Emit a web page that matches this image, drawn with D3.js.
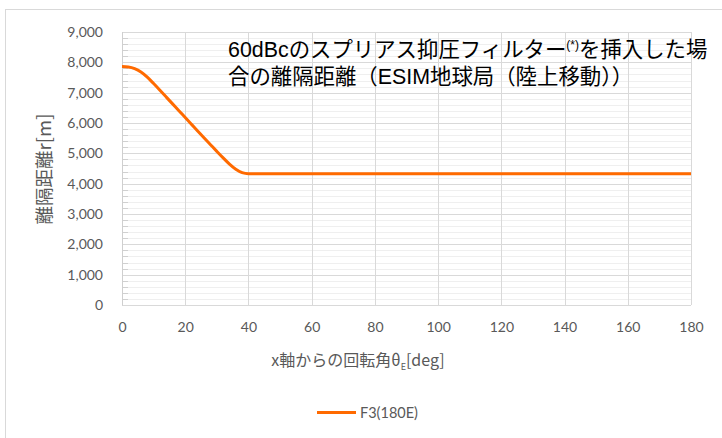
<!DOCTYPE html>
<html><head><meta charset="utf-8">
<script src="https://cdn.jsdelivr.net/npm/d3@7"></script>
<style>body{margin:0;background:#fff}svg{display:block}</style>
</head><body>
<svg id="c" width="722" height="438"></svg>
<script>
const thetaDeg = [0,2,4,6,8,10,12,14,16,18,20,22,24,26,28,30,32,34,36,38,40,50,60,70,80,90,100,110,120,130,140,150,160,170,180];
const distance = [7860,7845,7790,7680,7510,7300,7080,6855,6630,6405,6180,5955,5730,5505,5285,5065,4850,4645,4475,4365,4330,4330,4330,4330,4330,4330,4330,4330,4330,4330,4330,4330,4330,4330,4330];
const xTicks = [0,20,40,60,80,100,120,140,160,180];
const yTicks = [0,1000,2000,3000,4000,5000,6000,7000,8000,9000];
const seriesName = "F3(180E)";
const titleLine1 = "60dBcのスプリアス抑圧フィルター";
const titleSup = "(*)";
const titleLine1b = "を挿入した場";
const titleLine2 = "合の離隔距離（ESIM地球局（陸上移動））";
const yTitle = "離隔距離r[m]";

const svg = d3.select("#c");
const tickFont = "Lato, 'Open Sans', 'Noto Sans CJK JP', sans-serif";
const cjkFont = "'Noto Sans CJK JP', sans-serif";
const L = 122, R = 691, T = 32, B = 305;
const x = d3.scaleLinear().domain([0,180]).range([L,R]);
const y = d3.scaleLinear().domain([0,9000]).range([B,T]);

svg.append("rect").attr("x",5.5).attr("y",9.5).attr("width",800).attr("height",500)
  .attr("fill","#fff").attr("stroke","#d9d9d9");

// minor gridlines
const minor = d3.range(0,9001,200).filter(v=>v%1000!==0);
svg.append("g").selectAll("line").data(minor).join("line")
  .attr("x1",L).attr("x2",R).attr("y1",d=>Math.round(y(d))+0.5).attr("y2",d=>Math.round(y(d))+0.5)
  .attr("stroke","#efefef");
svg.append("g").selectAll("line").data(minor).join("line")
  .attr("x1",L).attr("x2",L+6).attr("y1",d=>Math.round(y(d))+0.5).attr("y2",d=>Math.round(y(d))+0.5)
  .attr("stroke","#d0d0d0");
// major gridlines
svg.append("g").selectAll("line").data(yTicks).join("line")
  .attr("x1",L).attr("x2",R).attr("y1",d=>Math.round(y(d))+0.5).attr("y2",d=>Math.round(y(d))+0.5)
  .attr("stroke","#d9d9d9");
svg.append("g").selectAll("line").data(xTicks).join("line")
  .attr("y1",T).attr("y2",B).attr("x1",d=>Math.round(x(d))+0.5).attr("x2",d=>Math.round(x(d))+0.5)
  .attr("stroke","#d9d9d9");
svg.append("line").attr("x1",L+0.5).attr("x2",L+0.5).attr("y1",T).attr("y2",B+0.5).attr("stroke","#cfcfcf");

// axes via d3
const fmt = d3.format(",");
const yAxis = svg.append("g").attr("transform",`translate(${L-16},0)`)
  .call(d3.axisLeft(y).tickValues(yTicks).tickFormat(fmt).tickSize(0));
yAxis.select(".domain").remove();
yAxis.selectAll("text").attr("font-family",tickFont).attr("font-size",14).attr("fill","#595959").attr("dx",0);
const xAxis = svg.append("g").attr("transform",`translate(0,${B+14})`)
  .call(d3.axisBottom(x).tickValues(xTicks).tickFormat(d3.format("d")).tickSize(0));
xAxis.select(".domain").remove();
xAxis.selectAll("text").attr("font-family",tickFont).attr("font-size",14).attr("fill","#595959");

// title
const tf = "'Liberation Sans', 'Noto Sans CJK JP', sans-serif";
const t = svg.append("text").attr("x",228).attr("y",57).attr("font-family",tf)
  .attr("font-size",21.4).attr("fill","#000");
t.append("tspan").text(titleLine1);
t.append("tspan").text(titleSup).attr("font-size",12).attr("dy",-8);
t.append("tspan").text(titleLine1b).attr("dy",8);
svg.append("text").attr("x",228).attr("y",83.5).attr("font-family",tf)
  .attr("font-size",21.4).attr("fill","#000").text(titleLine2);

// axis titles
svg.append("text").attr("transform","translate(51,169) rotate(-90)").attr("text-anchor","middle")
  .attr("font-family",cjkFont).attr("font-size",18.5).attr("fill","#595959").text(yTitle);
const xt = svg.append("text").attr("x",358).attr("y",366).attr("text-anchor","middle")
  .attr("font-family",cjkFont).attr("font-size",16).attr("fill","#595959");
xt.append("tspan").text("x軸からの回転角θ");
xt.append("tspan").text("E").attr("font-size",9).attr("dy",4);
xt.append("tspan").text("[deg]").attr("dy",-4);

// series
const data = thetaDeg.map((d,i)=>[d,distance[i]]);
svg.append("path").datum(data).attr("fill","none").attr("stroke","#ff6a00").attr("stroke-width",3)
  .attr("stroke-linejoin","round")
  .attr("d",d3.line().x(d=>x(d[0])).y(d=>y(d[1])).curve(d3.curveMonotoneX));

// legend
svg.append("line").attr("x1",317).attr("x2",356).attr("y1",412.5).attr("y2",412.5).attr("stroke","#ff6a00").attr("stroke-width",3);
svg.append("text").attr("x",360).attr("y",418).attr("font-family",tickFont).attr("font-size",14.5).attr("fill","#595959").text(seriesName);
</script>
</body></html>
